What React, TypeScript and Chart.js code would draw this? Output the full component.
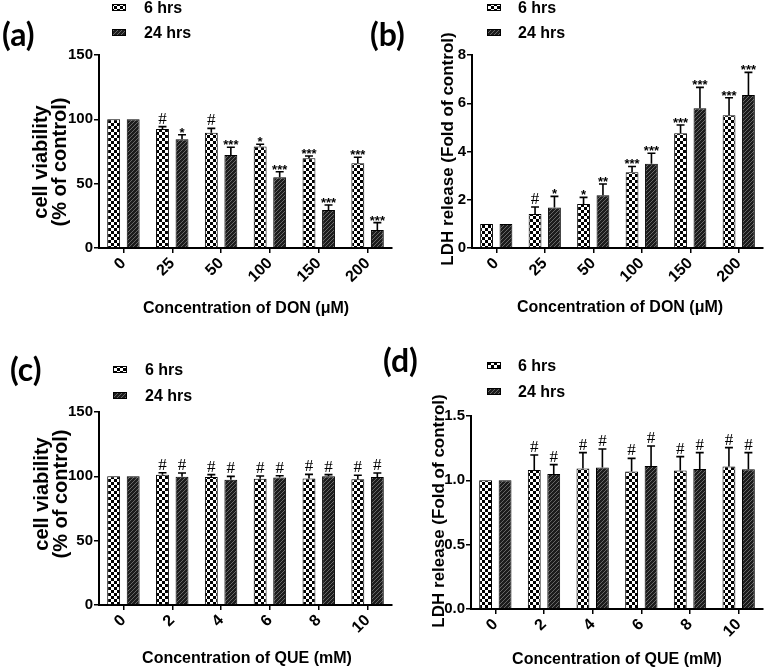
import React, { useEffect, useRef } from "react";
import { Chart, registerables } from "chart.js";

Chart.register(...registerables);

// ---------- data ----------
const DON_LABELS = ["0", "25", "50", "100", "150", "200"];
const QUE_LABELS = ["0", "2", "4", "6", "8", "10"];
const SERIES_NAMES = ["6 hrs", "24 hrs"];

// (a) cell viability, DON
const A_6H = [100, 92.5, 89.6, 78.8, 69.7, 65.8];
const A_6H_ERR = [0, 1.8, 3.4, 1.8, 1.8, 4.7];
const A_24H = [100, 84.5, 72.3, 55, 29.5, 14];
const A_24H_ERR = [0, 3.5, 6, 4.3, 3.9, 5.7];
const A_6H_SIG = ["", "#", "#", "*", "***", "***"];
const A_24H_SIG = ["", "*", "***", "***", "***", "***"];

// (b) LDH release, DON
const B_6H = [1, 1.41, 1.82, 3.14, 4.76, 5.5];
const B_6H_ERR = [0, 0.29, 0.28, 0.24, 0.34, 0.73];
const B_24H = [1, 1.68, 2.19, 3.49, 5.79, 6.34];
const B_24H_ERR = [0, 0.46, 0.46, 0.44, 0.87, 0.94];
const B_6H_SIG = ["", "#", "*", "***", "***", "***"];
const B_24H_SIG = ["", "*", "**", "***", "***", "***"];

// (c) cell viability, QUE
const C_6H = [100, 101.3, 99.5, 98.2, 98.4, 97.7];
const C_6H_ERR = [0, 1.5, 1.8, 2.1, 3.1, 3.1];
const C_24H = [100, 99.7, 97.4, 99, 100, 99.5];
const C_24H_ERR = [0, 2.9, 2.6, 1.5, 1.3, 3.1];
const C_6H_SIG = ["", "#", "#", "#", "#", "#"];
const C_24H_SIG = ["", "#", "#", "#", "#", "#"];

// (d) LDH release, QUE
const D_6H = [1, 1.081, 1.091, 1.068, 1.076, 1.107];
const D_6H_ERR = [0, 0.116, 0.124, 0.103, 0.108, 0.147];
const D_24H = [1, 1.05, 1.1, 1.112, 1.089, 1.086];
const D_24H_ERR = [0, 0.072, 0.144, 0.155, 0.126, 0.129];
const D_6H_SIG = ["", "#", "#", "#", "#", "#"];
const D_24H_SIG = ["", "#", "#", "#", "#", "#"];

// ---------- layout (page coordinates) ----------
type Panel = {
  tag: string;
  labels: string[];
  s6: number[]; e6: number[]; g6: string[];
  s24: number[]; e24: number[]; g24: string[];
  yMin: number; yMax: number; yStep: number; yDec: number;
  yTitle: string[]; yTitleX: number[]; yTitleY: number; yTitleFont: number;
  xTitle: string; xTitleX: number; xTitleY: number;
  box: { left: number; top: number; width: number; height: number };
  area: { left: number; right: number; top: number; bottom: number };
  legend: { boxX: number; textX: number; rows: number[] };
  label: { x: number; y: number };
};

const FONT = "'Liberation Sans', Arial, sans-serif";

const PANELS: Panel[] = [
  {
    tag: "(a)", labels: DON_LABELS,
    s6: A_6H, e6: A_6H_ERR, g6: A_6H_SIG, s24: A_24H, e24: A_24H_ERR, g24: A_24H_SIG,
    yMin: 0, yMax: 150, yStep: 50, yDec: 0,
    yTitle: ["cell viability", "(% of control)"], yTitleX: [41, 60], yTitleY: 162, yTitleFont: 20,
    xTitle: "Concentration of DON (\u03bcM)", xTitleX: 246, xTitleY: 309,
    box: { left: 0, top: 0, width: 400, height: 330 },
    area: { left: 99, right: 392, top: 55, bottom: 248 },
    legend: { boxX: 112, textX: 144, rows: [9, 34] },
    label: { x: 2, y: 46 },
  },
  {
    tag: "(b)", labels: DON_LABELS,
    s6: B_6H, e6: B_6H_ERR, g6: B_6H_SIG, s24: B_24H, e24: B_24H_ERR, g24: B_24H_SIG,
    yMin: 0, yMax: 8, yStep: 2, yDec: 0,
    yTitle: ["LDH release (Fold of control)"], yTitleX: [448], yTitleY: 149, yTitleFont: 17,
    xTitle: "Concentration of DON (\u03bcM)", xTitleX: 620, xTitleY: 308,
    box: { left: 365, top: 0, width: 402, height: 330 },
    area: { left: 472, right: 763, top: 55, bottom: 248 },
    legend: { boxX: 487, textX: 518, rows: [9, 34] },
    label: { x: 370, y: 46 },
  },
  {
    tag: "(c)", labels: QUE_LABELS,
    s6: C_6H, e6: C_6H_ERR, g6: C_6H_SIG, s24: C_24H, e24: C_24H_ERR, g24: C_24H_SIG,
    yMin: 0, yMax: 150, yStep: 50, yDec: 0,
    yTitle: ["cell viability", "(% of control)"], yTitleX: [42, 61], yTitleY: 494, yTitleFont: 20,
    xTitle: "Concentration of QUE (mM)", xTitleX: 247, xTitleY: 659,
    box: { left: 0, top: 335, width: 400, height: 336 },
    area: { left: 99, right: 392, top: 412, bottom: 605 },
    legend: { boxX: 113, textX: 145, rows: [371, 397] },
    label: { x: 10, y: 381 },
  },
  {
    tag: "(d)", labels: QUE_LABELS,
    s6: D_6H, e6: D_6H_ERR, g6: D_6H_SIG, s24: D_24H, e24: D_24H_ERR, g24: D_24H_SIG,
    yMin: 0, yMax: 1.5, yStep: 0.5, yDec: 1,
    yTitle: ["LDH release (Fold of control)"], yTitleX: [439], yTitleY: 511, yTitleFont: 17,
    xTitle: "Concentration of QUE (mM)", xTitleX: 617, xTitleY: 660,
    box: { left: 365, top: 335, width: 402, height: 336 },
    area: { left: 471, right: 763, top: 416, bottom: 609 },
    legend: { boxX: 487, textX: 518, rows: [367, 393] },
    label: { x: 383, y: 372 },
  },
];

// ---------- patterns ----------
function makeChecker(ctx: CanvasRenderingContext2D): CanvasPattern | string {
  const c = document.createElement("canvas");
  c.width = 6; c.height = 6;
  const g = c.getContext("2d")!;
  g.fillStyle = "#ffffff";
  g.fillRect(0, 0, 6, 6);
  g.fillStyle = "#000000";
  g.fillRect(0, 0, 3, 3);
  g.fillRect(3, 3, 3, 3);
  return ctx.createPattern(c, "repeat") || "#888";
}

function makeHatch(ctx: CanvasRenderingContext2D): CanvasPattern | string {
  const s = 4;
  const c = document.createElement("canvas");
  c.width = s; c.height = s;
  const g = c.getContext("2d")!;
  g.fillStyle = "#1c1c1c";
  g.fillRect(0, 0, s, s);
  g.strokeStyle = "#707070";
  g.lineWidth = 0.9;
  g.beginPath();
  g.moveTo(0, s); g.lineTo(s, 0);
  g.moveTo(-1, 1); g.lineTo(1, -1);
  g.moveTo(s - 1, s + 1); g.lineTo(s + 1, s - 1);
  g.stroke();
  return ctx.createPattern(c, "repeat") || "#333";
}

// ---------- chart ----------
function PanelChart({ p }: { p: Panel }) {
  const ref = useRef<HTMLCanvasElement | null>(null);
  useEffect(() => {
    const canvas = ref.current!;
    const ctx = canvas.getContext("2d")!;
    const checker = makeChecker(ctx);
    const hatch = makeHatch(ctx);
    const ox = p.box.left;
    const oy = p.box.top;

    const overlay = {
      id: "overlay_" + p.tag,
      afterDatasetsDraw(chart: any) {
        const c: CanvasRenderingContext2D = chart.ctx;
        const yScale = chart.scales.y;
        const sets = [
          { vals: p.s6, errs: p.e6, sig: p.g6 },
          { vals: p.s24, errs: p.e24, sig: p.g24 },
        ];
        sets.forEach((s, di) => {
          const meta = chart.getDatasetMeta(di);
          meta.data.forEach((el: any, j: number) => {
            const err = s.errs[j];
            let top = el.y;
            if (err > 0) {
              top = yScale.getPixelForValue(s.vals[j] + err);
              const cap = el.width * 0.62;
              c.save();
              c.strokeStyle = "#000";
              c.lineWidth = 1.6;
              c.beginPath();
              c.moveTo(el.x, el.y);
              c.lineTo(el.x, top);
              c.moveTo(el.x - cap / 2, top);
              c.lineTo(el.x + cap / 2, top);
              c.stroke();
              c.restore();
            }
            const t = s.sig[j];
            if (t) {
              c.save();
              c.fillStyle = "#000";
              c.textAlign = "center";
              c.textBaseline = "alphabetic";
              if (t.indexOf("#") >= 0) {
                c.font = "17px 'Liberation Serif', 'DejaVu Serif', serif";
                c.fillText(t, el.x, top - 3);
              } else {
                c.font = "bold 13px " + FONT;
                c.fillText(t, el.x, top + 2);
              }
              c.restore();
            }
          });
        });
      },
      afterDraw(chart: any) {
        const c: CanvasRenderingContext2D = chart.ctx;
        c.save();
        c.fillStyle = "#000";
        // panel label
        c.font = "bold 32px Lato, 'Open Sans', sans-serif";
        c.textAlign = "left";
        c.textBaseline = "alphabetic";
        c.fillText(p.tag, p.label.x - ox, p.label.y - oy);
        // legend
        const fills = [checker, hatch];
        p.legend.rows.forEach((ry, i) => {
          const bx = p.legend.boxX - ox;
          const by = ry - oy - 5;
          c.fillStyle = fills[i] as any;
          c.fillRect(bx, by, 14, 7);
          c.strokeStyle = "#000";
          c.lineWidth = 1;
          c.strokeRect(bx + 0.5, by + 0.5, 13, 6);
          c.fillStyle = "#000";
          c.font = "bold 16px " + FONT;
          c.textBaseline = "middle";
          c.fillText(SERIES_NAMES[i], p.legend.textX - ox, ry - oy);
        });
        // x title
        c.font = "bold 16px " + FONT;
        c.textAlign = "center";
        c.textBaseline = "middle";
        c.fillText(p.xTitle, p.xTitleX - ox, p.xTitleY - oy);
        // y title
        p.yTitle.forEach((line, i) => {
          c.save();
          c.translate(p.yTitleX[i] - ox, p.yTitleY - oy);
          c.rotate(-Math.PI / 2);
          c.font = "bold " + p.yTitleFont + "px " + FONT;
          c.textAlign = "center";
          c.textBaseline = "middle";
          c.fillText(line, 0, 0);
          c.restore();
        });
        c.restore();
      },
    };

    const axisGrid = {
      display: true,
      drawOnChartArea: false,
      drawTicks: true,
      tickLength: 5,
      color: "#000",
      lineWidth: 1.5,
    };

    const chart = new Chart(canvas, {
      type: "bar",
      data: {
        labels: p.labels,
        datasets: [
          {
            label: SERIES_NAMES[0],
            data: p.s6,
            backgroundColor: checker as any,
            borderColor: "#000",
            borderWidth: 1,
            categoryPercentage: 0.8,
            barPercentage: 0.66,
          },
          {
            label: SERIES_NAMES[1],
            data: p.s24,
            backgroundColor: hatch as any,
            borderColor: "#000",
            borderWidth: 1,
            categoryPercentage: 0.8,
            barPercentage: 0.66,
          },
        ],
      },
      options: {
        responsive: false,
        animation: false,
        devicePixelRatio: 1,
        layout: {
          padding: {
            left: 0,
            top: p.area.top - p.box.top,
            right: p.box.left + p.box.width - p.area.right,
            bottom: 0,
          },
        },
        plugins: {
          legend: { display: false },
          tooltip: { enabled: false },
        },
        scales: {
          x: {
            grid: { ...axisGrid, offset: false },
            border: { display: true, color: "#000", width: 2 },
            ticks: {
              color: "#000",
              font: { family: FONT, size: 16, weight: "bold" },
              minRotation: 45,
              maxRotation: 45,
              autoSkip: false,
              padding: 1,
            },
            afterFit: (scale: any) => {
              scale.height = p.box.top + p.box.height - p.area.bottom;
            },
          },
          y: {
            min: p.yMin,
            max: p.yMax,
            grid: axisGrid,
            border: { display: true, color: "#000", width: 2 },
            ticks: {
              stepSize: p.yStep,
              color: "#000",
              font: { family: FONT, size: 15, weight: "bold" },
              padding: 1,
              callback: (v: any) => Number(v).toFixed(p.yDec),
            },
            afterFit: (scale: any) => {
              scale.width = p.area.left - p.box.left;
            },
          },
        },
      } as any,
      plugins: [overlay],
    });
    return () => chart.destroy();
  }, [p]);

  return (
    <canvas
      ref={ref}
      width={p.box.width}
      height={p.box.height}
      style={{
        position: "absolute",
        left: p.box.left,
        top: p.box.top,
        width: p.box.width,
        height: p.box.height,
      }}
    />
  );
}

export default function App() {
  return (
    <div
      style={{
        position: "absolute",
        left: 0,
        top: 0,
        width: 767,
        height: 671,
        background: "#fff",
        overflow: "hidden",
      }}
    >
      {PANELS.map((p) => (
        <PanelChart key={p.tag} p={p} />
      ))}
    </div>
  );
}
